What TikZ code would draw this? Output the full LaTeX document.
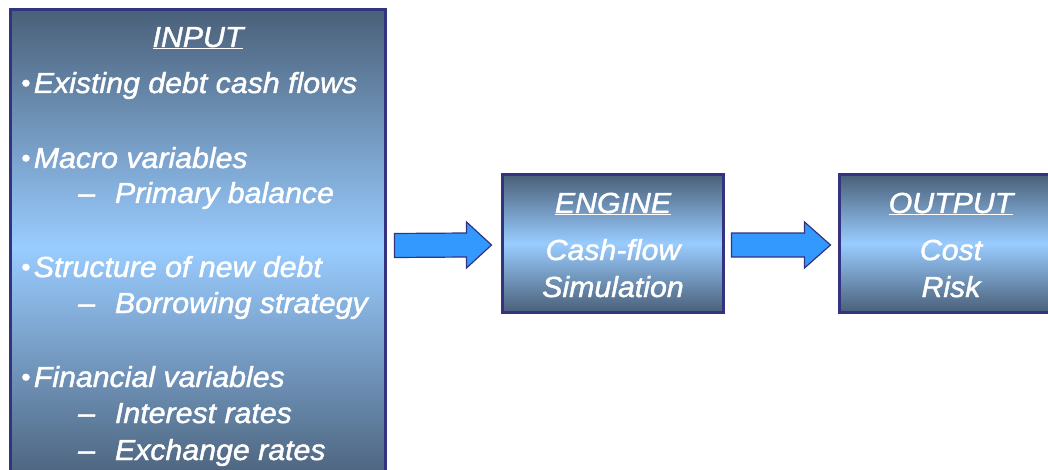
\documentclass[tikz,border=0pt]{standalone}
\usepackage{fontspec}
\setmainfont{Liberation Sans}[FakeStretch=1.045, FakeBold=1.5]
\usetikzlibrary{calc}
\definecolor{dk}{HTML}{4A6079}
\definecolor{lt}{HTML}{99CCFF}
\definecolor{navy}{HTML}{333380}
\definecolor{arr}{HTML}{3399FF}
\newcommand{\mybul}{{\fontsize{25}{25}\selectfont\raisebox{1.5pt}{\textbullet}}\hspace{3.5pt}}
\begin{document}
\begin{tikzpicture}[x=1pt,y=-1pt,
  box/.style={draw=navy, line width=3pt, top color=dk, bottom color=dk, middle color=lt, inner sep=0pt},
  txt/.style={text=white, font=\fontsize{29}{34}\selectfont\itshape, inner sep=0pt},
  lft/.style={txt, anchor=base west},
  ctr/.style={txt, anchor=base},
  barrow/.style={fill=arr, draw=navy, line width=1.2pt, line join=miter}]
\useasboundingbox (0,0) rectangle (1048,470);
\fill[white] (0,0) rectangle (1048,470);
% boxes
\node[box, minimum width=375pt, minimum height=475pt] (input) at (197.5,247.5) {};
\node[box, minimum width=221pt, minimum height=137pt] (engine) at (612.5,243.5) {};
\node[box, minimum width=223pt, minimum height=137pt] (output) at (950.5,243.5) {};
% block arrows
\coordinate (a1s) at ($(input.east)+(8,-2)$);
\coordinate (a1t) at ($(engine.west)+(-9,1.5)$);
\draw[barrow] ($(a1s)+(0,-12)$) -- ($(a1t)+(-25,-12)$) -- ($(a1t)+(-25,-23)$) -- (a1t)
  -- ($(a1t)+(-25,23)$) -- ($(a1t)+(-25,12)$) -- ($(a1s)+(0,12)$) -- cycle;
\coordinate (a2s) at ($(engine.east)+(7,1.5)$);
\coordinate (a2t) at ($(output.west)+(-7,1.5)$);
\draw[barrow] ($(a2s)+(0,-12)$) -- ($(a2t)+(-26,-12)$) -- ($(a2t)+(-26,-23)$) -- (a2t)
  -- ($(a2t)+(-26,23)$) -- ($(a2t)+(-26,12)$) -- ($(a2s)+(0,12)$) -- cycle;
% input text
\node[ctr] (inTitle) at (198,47) {\underline{INPUT}};
\node[lft] (i1) at (21,93) {\mybul Existing debt cash flows};
\node[lft] (i2) at (21,168) {\mybul Macro variables};
\node[lft] (i2a) at (78,203) {–\hspace{20pt}Primary balance};
\node[lft] (i3) at (21,277) {\mybul Structure of new debt};
\node[lft] (i3a) at (78,313) {–\hspace{20pt}Borrowing strategy};
\node[lft] (i4) at (21,387) {\mybul Financial variables};
\node[lft] (i4a) at (78,423) {–\hspace{20pt}Interest rates};
\node[lft] (i4b) at (78,460) {–\hspace{20pt}Exchange rates};
% engine text
\node[ctr] (enTitle) at (613,213) {\underline{ENGINE}};
\node[ctr] (en1) at (613,260) {Cash-flow};
\node[ctr] (en2) at (613,297) {Simulation};
% output text
\node[ctr] (ouTitle) at (951,213) {\underline{OUTPUT}};
\node[ctr] (ou1) at (951,260) {Cost};
\node[ctr] (ou2) at (951,297) {Risk};
\end{tikzpicture}
\end{document}
